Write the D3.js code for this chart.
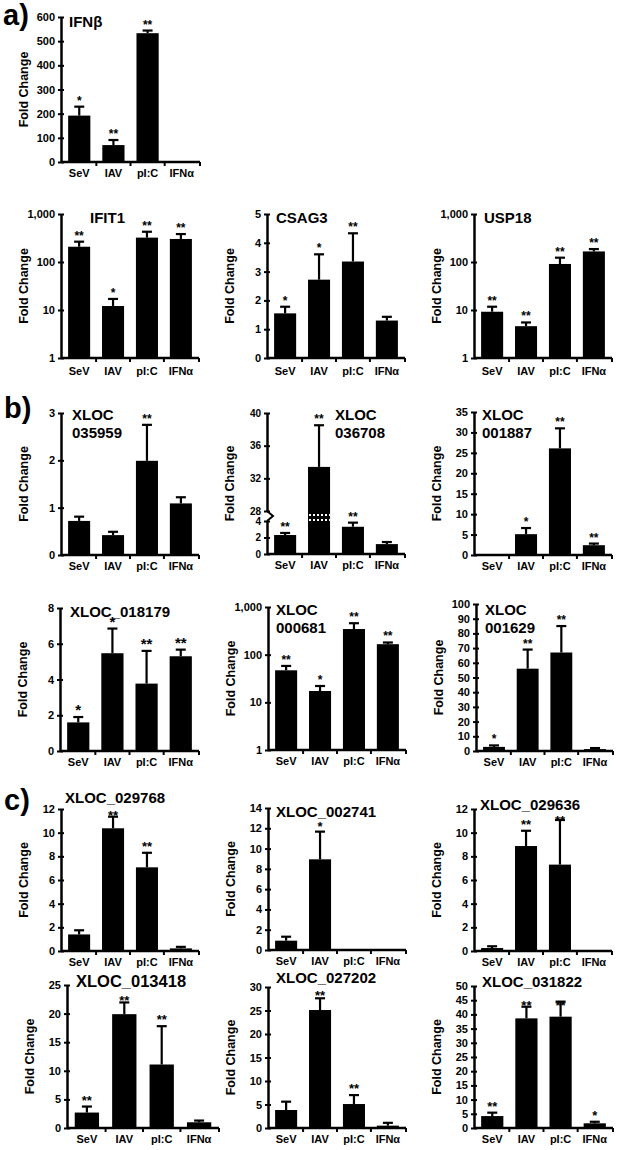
<!DOCTYPE html>
<html><head><meta charset="utf-8">
<script src="https://cdn.jsdelivr.net/npm/d3@7"></script>
<style>
html,body{margin:0;padding:0;background:#fff;}
svg text{font-family:"Liberation Sans",Arial,Helvetica,sans-serif;fill:#000;}
</style></head><body>
<svg id="chart" width="617" height="1150"></svg>
<script>
// ---------- DATA ----------
const categories = ["SeV", "IAV", "pI:C", "IFNα"];

// a) IFNβ
const ifnbMean = [192, 70, 533, null];
const ifnbErr = [229, 91, 544, null];
const ifnbStars = ["*", "**", "**", ""];
const ifnbTicks = [0, 100, 200, 300, 400, 500, 600];

// IFIT1 (log)
const ifit1Mean = [208, 12.1, 322, 302];
const ifit1Err = [265, 17, 427, 382];
const ifit1Stars = ["**", "*", "**", "**"];
const logTicks = [1, 10, 100, 1000];

// CSAG3
const csag3Mean = [1.55, 2.72, 3.35, 1.3];
const csag3Err = [1.78, 3.6, 4.33, 1.43];
const csag3Stars = ["*", "*", "**", ""];
const csag3Ticks = [0, 1, 2, 3, 4, 5];

// USP18 (log)
const usp18Mean = [9.2, 4.6, 91, 166];
const usp18Err = [11.7, 5.5, 123, 186];
const usp18Stars = ["**", "**", "**", "**"];

// b) XLOC 035959
const x035959Mean = [0.72, 0.42, 1.99, 1.09];
const x035959Err = [0.81, 0.49, 2.75, 1.22];
const x035959Stars = ["", "", "**", ""];
const x035959Ticks = [0, 1, 2, 3];

// XLOC 036708 (broken axis)
const x036708Mean = [2.3, 33.4, 3.3, 1.2];
const x036708Err = [2.55, 38.5, 3.8, 1.45];
const x036708Stars = ["**", "**", "**", ""];
const x036708LowTicks = [0, 2, 4];
const x036708HighTicks = [28, 32, 36, 40];

// XLOC 001887
const x001887Mean = [null, 5.1, 26.1, 2.4];
const x001887Err = [null, 6.6, 31, 2.8];
const x001887Stars = ["", "*", "**", "**"];
const x001887Ticks = [0, 5, 10, 15, 20, 25, 30, 35];

// XLOC_018179
const x018179Mean = [1.6, 5.47, 3.77, 5.3];
const x018179Err = [1.9, 6.85, 5.6, 5.67];
const x018179Stars = ["*", "*", "**", "**"];
const x018179Ticks = [0, 2, 4, 6, 8];

// XLOC 000681 (log)
const x000681Mean = [47, 17.3, 345, 166];
const x000681Err = [58, 22, 457, 180];
const x000681Stars = ["**", "*", "**", "**"];

// XLOC 001629
const x001629Mean = [2.8, 56, 67, 1.3];
const x001629Err = [3.8, 69, 85, 2.0];
const x001629Stars = ["*", "**", "**", ""];
const x001629Ticks = [0, 10, 20, 30, 40, 50, 60, 70, 80, 90, 100];

// c) XLOC_029768
const x029768Mean = [1.4, 10.37, 7.07, 0.22];
const x029768Err = [1.75, 11.35, 8.3, 0.35];
const x029768Stars = ["", "**", "**", ""];
const ticks0to12 = [0, 2, 4, 6, 8, 10, 12];

// XLOC_002741
const x002741Mean = [0.92, 8.94, null, null];
const x002741Err = [1.31, 11.67, null, null];
const x002741Stars = ["", "*", "", ""];
const x002741Ticks = [0, 2, 4, 6, 8, 10, 12, 14];

// XLOC_029636
const x029636Mean = [0.25, 8.87, 7.3, null];
const x029636Err = [0.4, 10.16, 11.07, null];
const x029636Stars = ["", "**", "**", ""];

// XLOC_013418
const x013418Mean = [2.7, 19.9, 11.1, 1.0];
const x013418Err = [3.75, 21.95, 17.8, 1.3];
const x013418Stars = ["**", "**", "**", ""];
const x013418Ticks = [0, 5, 10, 15, 20, 25];

// XLOC_027202
const x027202Mean = [3.83, 25.1, 5.1, 0.5];
const x027202Err = [5.6, 27.6, 7.0, 1.1];
const x027202Stars = ["", "**", "**", ""];
const x027202Ticks = [0, 5, 10, 15, 20, 25, 30];

// XLOC_031822
const x031822Mean = [4.2, 38.6, 39.2, 1.65];
const x031822Err = [5.4, 42.7, 44.5, 2.2];
const x031822Stars = ["**", "**", "**", "*"];
const x031822Ticks = [0, 5, 10, 15, 20, 25, 30, 35, 40, 45, 50];

// ---------- LAYOUT ----------
const panels = [
  {title:["IFNβ"], mean:ifnbMean, err:ifnbErr, stars:ifnbStars, type:"linear", domain:[0,600], ticks:ifnbTicks,
   x0:61, yTop:17, yBot:162, w:139, tx:69, ty:27, ts:15},
  {title:["IFIT1"], mean:ifit1Mean, err:ifit1Err, stars:ifit1Stars, type:"log", domain:[1,1000], ticks:logTicks,
   x0:61, yTop:214, yBot:358, w:138, tx:90, ty:223, ts:15, labDy:17},
  {title:["CSAG3"], mean:csag3Mean, err:csag3Err, stars:csag3Stars, type:"linear", domain:[0,5], ticks:csag3Ticks,
   x0:267, yTop:214, yBot:358, w:138, tx:276, ty:223, ts:15, labDy:17},
  {title:["USP18"], mean:usp18Mean, err:usp18Err, stars:usp18Stars, type:"log", domain:[1,1000], ticks:logTicks,
   x0:474, yTop:214, yBot:358, w:138, tx:484, ty:223, ts:15, labDy:17},
  {title:["XLOC","035959"], mean:x035959Mean, err:x035959Err, stars:x035959Stars, type:"linear", domain:[0,3], ticks:x035959Ticks,
   x0:61, yTop:413, yBot:555, w:138, tx:72, ty:420, ts:15},
  {title:["XLOC","036708"], mean:x036708Mean, err:x036708Err, stars:x036708Stars, type:"broken",
   lowDomain:[0,4], highDomain:[28,40], lowTicks:x036708LowTicks, highTicks:x036708HighTicks, breakHigh:511, breakLow:521,
   x0:267, yTop:413, yBot:554, w:138, tx:335, ty:420, ts:15},
  {title:["XLOC","001887"], mean:x001887Mean, err:x001887Err, stars:x001887Stars, type:"linear", domain:[0,35], ticks:x001887Ticks,
   x0:474, yTop:412, yBot:555, w:138, tx:482, ty:420, ts:15},
  {title:["XLOC_018179"], mean:x018179Mean, err:x018179Err, stars:x018179Stars, type:"linear", domain:[0,8], ticks:x018179Ticks,
   x0:60, yTop:608, yBot:751, w:139, tx:70, ty:617, ts:15, starSize:15, starGap:2},
  {title:["XLOC","000681"], mean:x000681Mean, err:x000681Err, stars:x000681Stars, type:"log", domain:[1,1000], ticks:logTicks,
   x0:268, yTop:607, yBot:750, w:138, tx:276, ty:615, ts:15},
  {title:["XLOC","001629"], mean:x001629Mean, err:x001629Err, stars:x001629Stars, type:"linear", domain:[0,100], ticks:x001629Ticks,
   x0:476, yTop:604, yBot:751, w:137, tx:485, ty:615, ts:15},
  {title:["XLOC_029768"], mean:x029768Mean, err:x029768Err, stars:x029768Stars, type:"linear", domain:[0,12], ticks:ticks0to12,
   x0:61, yTop:809, yBot:951, w:138, tx:65, ty:803, ts:15, starFloor:11, starSize:13},
  {title:["XLOC_002741"], mean:x002741Mean, err:x002741Err, stars:x002741Stars, type:"linear", domain:[0,14], ticks:x002741Ticks,
   x0:268, yTop:808, yBot:950, w:138, tx:276, ty:817, ts:15, starSize:13, starGap:1},
  {title:["XLOC_029636"], mean:x029636Mean, err:x029636Err, stars:x029636Stars, type:"linear", domain:[0,12], ticks:ticks0to12,
   x0:474, yTop:809, yBot:951, w:138, tx:480, ty:810, ts:15, starFloor:16, starSize:13},
  {title:["XLOC_013418"], mean:x013418Mean, err:x013418Err, stars:x013418Stars, type:"linear", domain:[0,25], ticks:x013418Ticks,
   x0:67, yTop:985, yBot:1128, w:152, tx:76, ty:987, ts:16.5, starFloor:20, starSize:13},
  {title:["XLOC_027202"], mean:x027202Mean, err:x027202Err, stars:x027202Stars, type:"linear", domain:[0,30], ticks:x027202Ticks,
   x0:268, yTop:987, yBot:1128, w:138, tx:276, ty:983, ts:15, starFloor:13, starSize:13},
  {title:["XLOC_031822"], mean:x031822Mean, err:x031822Err, stars:x031822Stars, type:"linear", domain:[0,50], ticks:x031822Ticks,
   x0:474, yTop:986, yBot:1128, w:139, tx:482, ty:987, ts:15, starFloor:24, starSize:13}
];

const sectionLabels = [{t:"a)", x:3, y:25}, {t:"b)", x:4, y:418}, {t:"c)", x:4, y:810}];

// ---------- DRAW ----------
const svg = d3.select("#chart");
const AXW = 2.5;

function styleAxis(ax, fs) {
  ax.select(".domain").attr("stroke", "#000").attr("stroke-width", AXW);
  ax.selectAll(".tick line").attr("stroke", "#000").attr("stroke-width", 2).attr("x1", 3);
  ax.selectAll(".tick text").attr("font-size", fs || 11).attr("font-weight", "bold").attr("fill", "#000");
}

function drawPanel(p) {
  const g = svg.append("g");
  const x = d3.scaleBand().domain(categories)
    .range([p.x0 + 1, p.x0 + p.w - 1]).paddingInner(0.35).paddingOuter(0.18);

  let y;
  if (p.type === "log") {
    y = d3.scaleLog().domain(p.domain).range([p.yBot, p.yTop]);
  } else if (p.type === "linear") {
    y = d3.scaleLinear().domain(p.domain).range([p.yBot, p.yTop]);
  } else {
    const yLow = d3.scaleLinear().domain(p.lowDomain).range([p.yBot, p.breakLow]);
    const yHigh = d3.scaleLinear().domain(p.highDomain).range([p.breakHigh, p.yTop]);
    y = v => (v <= p.lowDomain[1] ? yLow(v) : yHigh(v));
    y.low = yLow; y.high = yHigh;
  }
  const base = p.type === "log" ? p.domain[0] : 0;
  const idx = d3.range(categories.length).filter(i => p.mean[i] != null);
  const cx = i => x(categories[i]) + x.bandwidth() / 2;

  // bars
  g.selectAll("rect.bar").data(idx).join("rect")
    .attr("class", "bar")
    .attr("x", i => x(categories[i]))
    .attr("width", x.bandwidth())
    .attr("y", i => y(p.mean[i]))
    .attr("height", i => y(base) - y(p.mean[i]))
    .attr("fill", "#000");

  // broken bar scallops
  if (p.type === "broken") {
    const brk = idx.filter(i => p.mean[i] > p.lowDomain[1]);
    [p.breakHigh + 4, p.breakLow - 1].forEach(yy => {
      g.selectAll(null).data(brk).join("line")
        .attr("x1", i => x(categories[i]) + 1).attr("x2", i => x(categories[i]) + x.bandwidth())
        .attr("y1", yy).attr("y2", yy)
        .attr("stroke", "#fff").attr("stroke-width", 2).attr("stroke-dasharray", "2,2");
    });
  }

  // error bars
  const eIdx = idx.filter(i => p.err[i] != null);
  g.selectAll("line.err").data(eIdx).join("line")
    .attr("x1", cx).attr("x2", cx)
    .attr("y1", i => y(p.mean[i])).attr("y2", i => y(p.err[i]))
    .attr("stroke", "#000").attr("stroke-width", 2.2);
  g.selectAll("line.cap").data(eIdx).join("line")
    .attr("x1", i => cx(i) - 5).attr("x2", i => cx(i) + 5)
    .attr("y1", i => y(p.err[i])).attr("y2", i => y(p.err[i]))
    .attr("stroke", "#000").attr("stroke-width", 2.2);

  // stars
  const sIdx = idx.filter(i => p.stars[i]);
  const gap = p.starGap != null ? p.starGap : 2;
  g.selectAll("text.star").data(sIdx).join("text")
    .attr("x", cx)
    .attr("y", i => {
      let yy = y(p.err[i] != null ? p.err[i] : p.mean[i]) - gap;
      if (p.starFloor != null) yy = Math.max(yy, p.yTop + p.starFloor);
      return yy;
    })
    .attr("text-anchor", "middle")
    .attr("font-size", p.starSize || 12)
    .attr("font-weight", "bold")
    .text(i => p.stars[i]);

  // y axis
  if (p.type === "broken") {
    const a1 = g.append("g").attr("transform", `translate(${p.x0},0)`)
      .call(d3.axisLeft(y.high).tickValues(p.highTicks).tickFormat(d3.format("d")).tickSize(3).tickSizeOuter(0).tickPadding(3));
    const a2 = g.append("g").attr("transform", `translate(${p.x0},0)`)
      .call(d3.axisLeft(y.low).tickValues(p.lowTicks).tickFormat(d3.format("d")).tickSize(3).tickSizeOuter(0).tickPadding(3));
    styleAxis(a1, 10); styleAxis(a2, 10);
    g.append("path")
      .attr("d", `M${p.x0},${p.breakHigh} L${p.x0 + 6},${(p.breakHigh + p.breakLow) / 2} L${p.x0},${p.breakLow}`)
      .attr("fill", "none").attr("stroke", "#000").attr("stroke-width", 2);
  } else {
    const fmt = p.type === "log" ? d3.format(",") : d3.format("d");
    const ax = g.append("g").attr("transform", `translate(${p.x0},0)`)
      .call(d3.axisLeft(y).tickValues(p.ticks).tickFormat(fmt).tickSize(3).tickSizeOuter(0).tickPadding(3));
    styleAxis(ax);
  }

  // x axis line
  g.append("line")
    .attr("x1", p.x0).attr("x2", p.x0 + p.w)
    .attr("y1", p.yBot).attr("y2", p.yBot)
    .attr("stroke", "#000").attr("stroke-width", AXW);
  // boundary ticks
  const bounds = d3.range(1, categories.length).map(k =>
    (x(categories[k - 1]) + x.bandwidth() + x(categories[k])) / 2).concat([p.x0 + p.w]);
  g.selectAll("line.xt").data(bounds).join("line")
    .attr("x1", d => d).attr("x2", d => d)
    .attr("y1", p.yBot).attr("y2", p.yBot + 4)
    .attr("stroke", "#000").attr("stroke-width", 2);
  // category labels
  g.selectAll("text.cat").data(categories).join("text")
    .attr("x", d => x(d) + x.bandwidth() / 2)
    .attr("y", p.yBot + (p.labDy || 15))
    .attr("text-anchor", "middle")
    .attr("font-size", 11).attr("font-weight", "bold")
    .text(d => d);

  // y-axis title
  const ym = (p.yTop + p.yBot) / 2;
  g.append("text")
    .attr("transform", `translate(${p.x0 - 37},${ym}) rotate(-90)`)
    .attr("text-anchor", "middle").attr("dy", "0.35em")
    .attr("font-size", 12.5).attr("font-weight", "bold")
    .text("Fold Change");

  // panel title
  const t = g.append("text").attr("font-size", p.ts).attr("font-weight", "bold");
  p.title.forEach((line, k) => {
    t.append("tspan").attr("x", p.tx).attr("y", p.ty + k * 18).text(line);
  });
}

panels.forEach(drawPanel);

svg.selectAll("text.sec").data(sectionLabels).join("text")
  .attr("x", d => d.x).attr("y", d => d.y)
  .attr("font-size", 29).attr("font-weight", "bold")
  .text(d => d.t);
</script>
</body></html>
